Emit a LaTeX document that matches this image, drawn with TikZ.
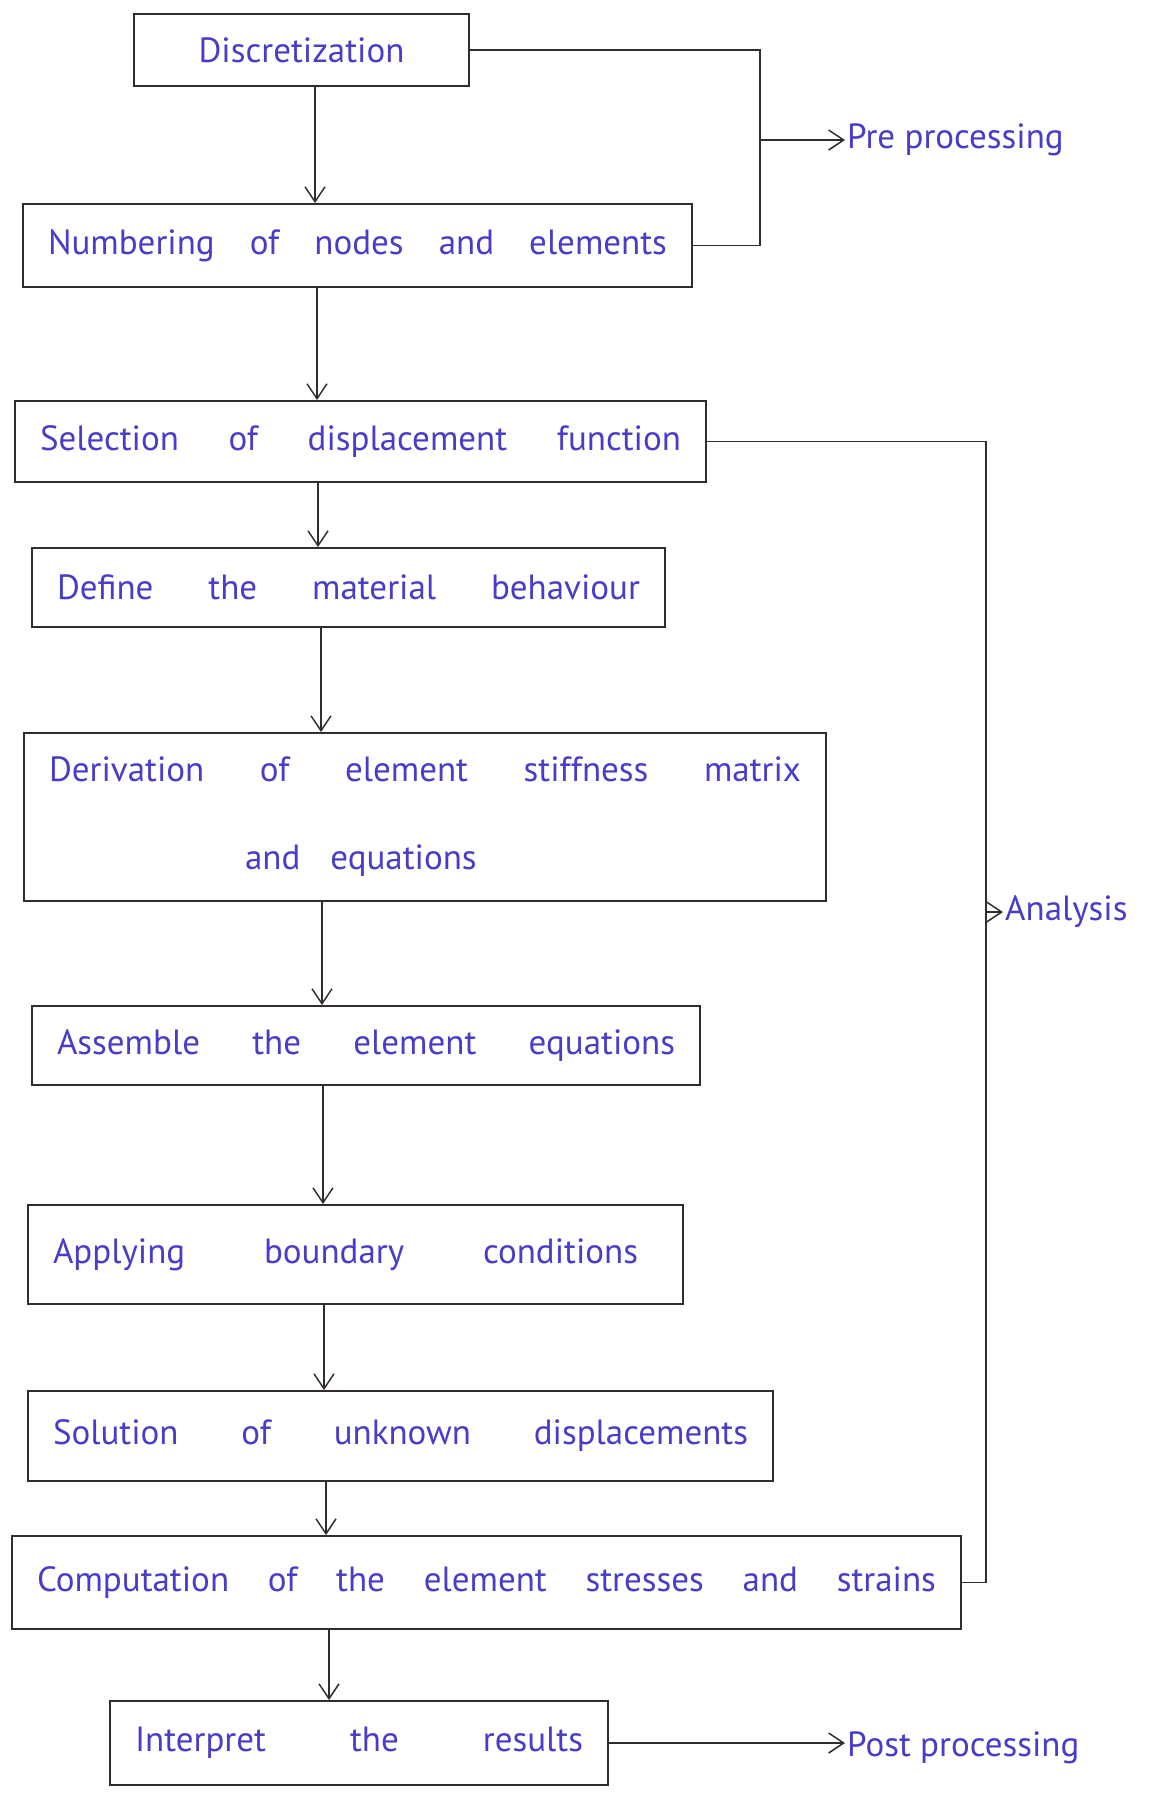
\documentclass[tikz,border=0pt]{standalone}
\usepackage{fontspec}
\setmainfont{PT Sans}
\usetikzlibrary{arrows.meta}
\definecolor{ink}{RGB}{72,60,200}
\definecolor{pencil}{RGB}{50,44,44}
\tikzset{
  box/.style={draw=pencil, line width=1.8pt, rectangle, inner xsep=25pt, inner ysep=4pt,
    text=ink, font=\fontsize{35}{42}\selectfont, anchor=center},
  lbl/.style={text=ink, font=\fontsize{35}{42}\selectfont, inner sep=2pt},
  conn/.style={draw=pencil, line width=1.8pt},
  arr/.style={conn, -{Straight Barb[length=15pt,width=20pt,line width=1.5pt]}}
}
\begin{document}
\begin{tikzpicture}[x=1pt,y=-1pt]
\useasboundingbox (0,0) rectangle (1160,1808);
% boxes
\node[box, minimum width=335pt, minimum height=72pt, align=center] (n1) at (301.5,50) {Discretization};
\node[box, minimum width=669pt, minimum height=83pt, text width=619pt] (n2) at (357.5,245.5)
  {Numbering\hfill of\hfill nodes\hfill and\hfill elements};
\node[box, minimum width=691pt, minimum height=81pt, text width=641pt] (n3) at (360.5,441.5)
  {Selection\hfill of\hfill displacement\hfill function};
\node[box, minimum width=633pt, minimum height=79pt, text width=583pt] (n4) at (348.5,587.5)
  {Define\hfill the\hfill material\hfill behaviour};
\node[box, minimum width=802pt, minimum height=168pt, text width=752pt] (n5) at (425,817)
  {Derivation\hfill of\hfill element\hfill stiffness\hfill matrix\\[46pt]\hspace*{196pt}and\hspace{30pt}equations};
\node[box, minimum width=668pt, minimum height=79pt, text width=618pt] (n6) at (366,1045.5)
  {Assemble\hfill the\hfill element\hfill equations};
\node[box, minimum width=655pt, minimum height=99pt, text width=605pt] (n7) at (355.5,1254.5)
  {Applying\hfill boundary\hfill conditions\hspace*{20pt}};
\node[box, minimum width=745pt, minimum height=90pt, text width=695pt] (n8) at (400.5,1436)
  {Solution\hfill of\hfill unknown\hfill displacements};
\node[box, minimum width=949pt, minimum height=93pt, text width=899pt] (n9) at (486.5,1582.5)
  {Computation\hfill of\hfill the\hfill element\hfill stresses\hfill and\hfill strains};
\node[box, minimum width=498pt, minimum height=84pt, text width=448pt] (n10) at (359,1743)
  {Interpret\hfill the\hfill results};
% labels
\node[lbl, anchor=west] (pre) at (845,140) {Pre processing};
\node[lbl, anchor=west] (ana) at (1003,912) {Analysis};
\node[lbl, anchor=west] (post) at (845,1748) {Post processing};
% x positions of vertical arrows
\coordinate (x1) at (315,0);
\coordinate (x2) at (317,0);
\coordinate (x3) at (318,0);
\coordinate (x4) at (321,0);
\coordinate (x5) at (322,0);
\coordinate (x6) at (323,0);
\coordinate (x7) at (324,0);
\coordinate (x8) at (326,0);
\coordinate (x9) at (329,0);
\draw[arr] (n1.south -| x1) -- (n2.north -| x1);
\draw[arr] (n2.south -| x2) -- (n3.north -| x2);
\draw[arr] (n3.south -| x3) -- (n4.north -| x3);
\draw[arr] (n4.south -| x4) -- (n5.north -| x4);
\draw[arr] (n5.south -| x5) -- (n6.north -| x5);
\draw[arr] (n6.south -| x6) -- (n7.north -| x6);
\draw[arr] (n7.south -| x7) -- (n8.north -| x7);
\draw[arr] (n8.south -| x8) -- (n9.north -| x8);
\draw[arr] (n9.south -| x9) -- (n10.north -| x9);
% pre processing bracket
\coordinate (pj) at (760,0);
\draw[conn] (n1.east) -- (n1.east -| pj) -- (n2.east -| pj) -- (n2.east);
\draw[arr] (pre.west -| pj) -- (pre.west);
% analysis bracket
\coordinate (aj) at (986,0);
\draw[conn] (n3.east) -- (n3.east -| aj) -- (n9.east -| aj) -- (n9.east);
\draw[arr] (ana.west -| aj) -- (ana.west);
% post processing
\draw[arr] (n10.east) -- (n10.east -| post.west);
\end{tikzpicture}
\end{document}
